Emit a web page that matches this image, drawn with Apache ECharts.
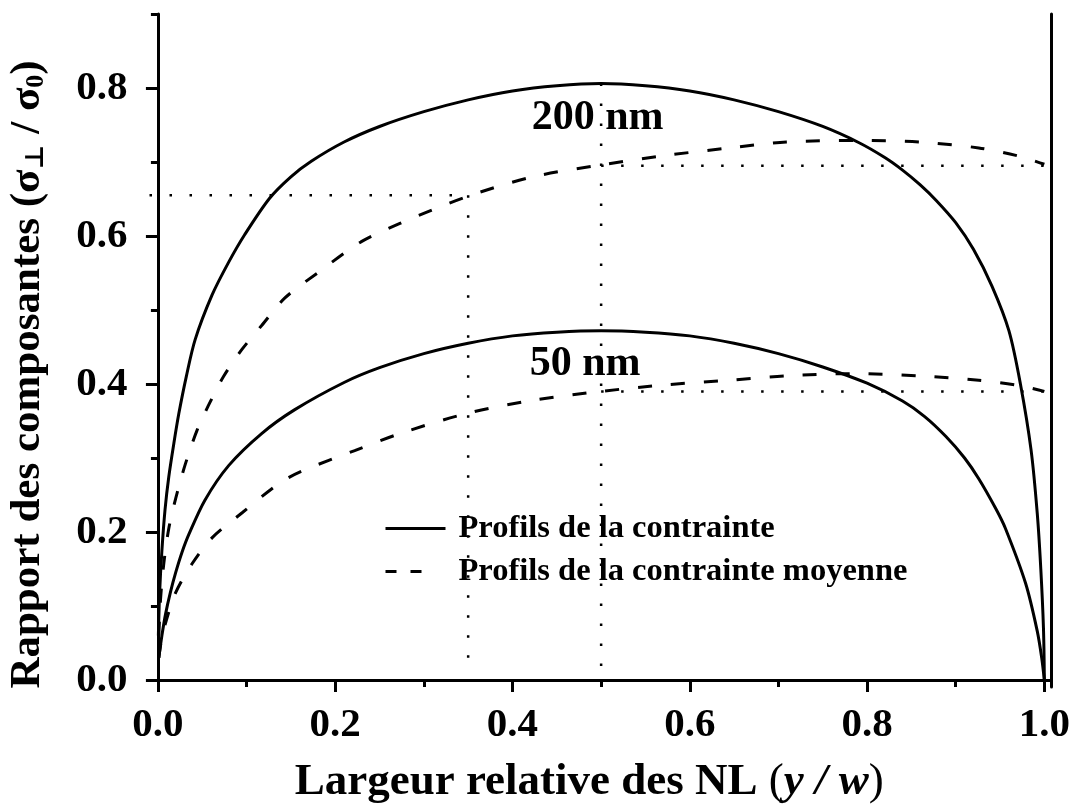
<!DOCTYPE html>
<html>
<head>
<meta charset="utf-8">
<script src="https://cdn.jsdelivr.net/npm/echarts@6/dist/echarts.min.js"></script>
<style>
  html, body { margin: 0; padding: 0; background: #fff; }
  #chart { width: 1078px; height: 807px; }
</style>
</head>
<body>
<div id="chart"></div>
<script>
const FONT = '"Liberation Serif", "Times New Roman", "DejaVu Serif", serif';

// Stress profile across the wire width, 200 nm wire
const x200Solid = [0.0005, 0.002, 0.0045, 0.008, 0.0123, 0.018, 0.0236, 0.032, 0.042, 0.061, 0.08, 0.098, 0.126, 0.15, 0.173, 0.21, 0.25, 0.3, 0.35, 0.4, 0.45, 0.5, 0.55, 0.6, 0.65, 0.7, 0.75, 0.791, 0.82, 0.84, 0.86, 0.878, 0.9, 0.92, 0.941, 0.96, 0.973, 0.985, 0.992, 0.996, 0.999, 1.0];
const y200Solid = [0.06, 0.12, 0.175, 0.23, 0.275, 0.32, 0.36, 0.41, 0.46, 0.52, 0.565, 0.602, 0.651, 0.68, 0.701, 0.727, 0.748, 0.768, 0.784, 0.796, 0.803, 0.806, 0.803, 0.796, 0.784, 0.768, 0.748, 0.726, 0.706, 0.689, 0.669, 0.648, 0.618, 0.582, 0.532, 0.472, 0.40, 0.311, 0.225, 0.15, 0.07, 0.0];

// Mean stress profile, 200 nm wire
const x200Mean = [0.001, 0.003, 0.0067, 0.0123, 0.02, 0.031, 0.044, 0.057, 0.074, 0.095, 0.117, 0.143, 0.18, 0.229, 0.273, 0.348, 0.423, 0.5, 0.574, 0.645, 0.709, 0.791, 0.859, 0.926, 0.971, 1.0];
const y200Mean = [0.06, 0.11, 0.158, 0.205, 0.245, 0.292, 0.337, 0.371, 0.41, 0.447, 0.479, 0.516, 0.55, 0.592, 0.617, 0.653, 0.68, 0.696, 0.709, 0.719, 0.727, 0.729, 0.727, 0.719, 0.708, 0.697];

// Stress profile across the wire width, 50 nm wire
const x50Solid = [0.001, 0.0045, 0.0086, 0.014, 0.02, 0.027, 0.035, 0.053, 0.08, 0.117, 0.154, 0.21, 0.25, 0.3, 0.35, 0.4, 0.45, 0.5, 0.55, 0.6, 0.65, 0.7, 0.75, 0.8, 0.84, 0.865, 0.889, 0.91, 0.926, 0.945, 0.956, 0.979, 0.992, 0.997, 1.0];
const y50Solid = [0.03, 0.06, 0.089, 0.118, 0.145, 0.172, 0.197, 0.243, 0.29, 0.333, 0.365, 0.402, 0.422, 0.441, 0.455, 0.465, 0.47, 0.472, 0.47, 0.465, 0.455, 0.441, 0.423, 0.401, 0.377, 0.356, 0.329, 0.3, 0.272, 0.232, 0.205, 0.13, 0.066, 0.03, 0.0];

// Mean stress profile, 50 nm wire
const x50Mean = [0.001, 0.003, 0.0086, 0.02, 0.0385, 0.061, 0.095, 0.136, 0.162, 0.222, 0.273, 0.348, 0.423, 0.5, 0.574, 0.645, 0.709, 0.784, 0.859, 0.926, 0.971, 1.0];
const y50Mean = [0.03, 0.047, 0.077, 0.118, 0.157, 0.192, 0.226, 0.265, 0.282, 0.31, 0.333, 0.36, 0.378, 0.39, 0.399, 0.405, 0.411, 0.414, 0.411, 0.405, 0.398, 0.39];

// Guide lines (dotted)
const guides = [
  [[-0.0095, 0.655], [0.35, 0.655]],
  [[0.35, 0.655], [0.35, 0.01]],
  [[0.5, 0.806], [0.5, 0.01]],
  [[0.5, 0.695], [1.0, 0.695]],
  [[0.5, 0.39], [1.0, 0.39]]
];

// Size labels
const sizeLabels = ['200 nm', '50 nm'];
const sizeLabelPos = [[0.496, 0.759], [0.482, 0.427]];

const xMajor = [0, 0.2, 0.4, 0.6, 0.8, 1.0];
const xMinor = [0.1, 0.3, 0.5, 0.7, 0.9];
const yMajor = [0, 0.2, 0.4, 0.6, 0.8];
const yMinor = [0.1, 0.3, 0.5, 0.7, 0.9];

const legendSolid = 'Profils de la contrainte';
const legendMean = 'Profils de la contrainte moyenne';

const zip = (xs, ys) => xs.map((x, i) => [x, ys[i]]);

const X_MIN = -0.0095, X_MAX = 1.0075, Y_MIN = -0.0095, Y_MAX = 0.9;
const AXIS_COLOR = '#000';

const solidStyle = { color: '#000', width: 3, type: 'solid' };
const dashStyle = { color: '#000', width: 3, type: [14, 19] };
const dotStyle = { color: '#000', width: 2.5, type: [2.5, 17.5] };

const curve = (name, xs, ys, style) => ({
  name, type: 'line', data: zip(xs, ys), smooth: 0.3,
  symbol: 'none', lineStyle: style, color: '#000'
});

const series = [
  curve(legendSolid, x200Solid, y200Solid, solidStyle),
  curve(legendSolid, x50Solid, y50Solid, solidStyle),
  curve(legendMean, x200Mean, y200Mean, dashStyle),
  curve(legendMean, x50Mean, y50Mean, dashStyle)
];
guides.forEach(g => series.push({
  type: 'line', data: g, symbol: 'none', lineStyle: dotStyle, silent: true, clip: false, z: 1
}));
series.push({
  type: 'scatter', symbol: 'circle', symbolSize: 1, silent: true,
  itemStyle: { color: 'transparent', opacity: 1 },
  data: sizeLabelPos.map((p, i) => ({ value: p, name: sizeLabels[i] })),
  label: {
    show: true, position: 'inside', formatter: p => p.name, opacity: 1,
    fontFamily: FONT, fontWeight: 'bold', fontSize: 42, color: '#000'
  }
});

const tickLabel = v => v.toFixed(1);

const option = {
  backgroundColor: '#fff',
  animation: false,
  grid: { left: 149.5, right: 27, top: 14, bottom: 120, containLabel: false, outerBoundsMode: 'none' },
  legend: {
    orient: 'vertical', left: 384, top: 512, padding: 0,
    itemWidth: 60, itemHeight: 14, itemGap: 10,
    itemStyle: { opacity: 0 },
    lineStyle: { width: 3 },
    data: [
      { name: legendSolid },
      { name: legendMean, lineStyle: { width: 3, type: [11, 14, 11, 40] } }
    ],
    textStyle: { fontFamily: FONT, fontWeight: 'bold', fontSize: 32.5, color: '#000', padding: [0, 0, 0, 8] }
  },
  xAxis: [
    {
      type: 'value', min: X_MIN, max: X_MAX, position: 'bottom',
      axisLine: { show: true, lineStyle: { color: AXIS_COLOR, width: 3 } },
      axisTick: { show: true, length: 12, lineStyle: { width: 3, color: AXIS_COLOR }, customValues: xMajor },
      axisLabel: { customValues: xMajor, formatter: tickLabel, margin: 18, fontFamily: FONT, fontWeight: 'bold', fontSize: 41, color: '#000' },
      splitLine: { show: false },
      name: '{b|Largeur relative des NL }{r|(}{i|y / w}{r|)}',
      nameLocation: 'middle', nameGap: 73,
      nameTextStyle: {
        padding: [0, 22, 0, 0],
        rich: {
          b: { fontFamily: FONT, fontWeight: 'bold', fontSize: 45, color: '#000' },
          r: { fontFamily: FONT, fontWeight: 'normal', fontSize: 45, color: '#000' },
          i: { fontFamily: FONT, fontWeight: 'bold', fontStyle: 'italic', fontSize: 45, color: '#000' }
        }
      }
    },
    {
      type: 'value', min: X_MIN, max: X_MAX, position: 'bottom',
      axisLine: { show: false },
      axisTick: { show: true, length: 7, lineStyle: { width: 3, color: AXIS_COLOR }, customValues: xMinor },
      axisLabel: { show: false },
      splitLine: { show: false }
    }
  ],
  yAxis: [
    {
      type: 'value', min: Y_MIN, max: Y_MAX, position: 'left',
      axisLine: { show: true, lineStyle: { color: AXIS_COLOR, width: 3 } },
      axisTick: { show: true, length: 12, lineStyle: { width: 3, color: AXIS_COLOR }, customValues: yMajor },
      axisLabel: { customValues: yMajor, formatter: tickLabel, margin: 22, fontFamily: FONT, fontWeight: 'bold', fontSize: 41, color: '#000' },
      splitLine: { show: false },
      name: '{t|Rapport des composantes (σ}{s|⊥}{t| / σ}{s|0}{t|)}',
      nameLocation: 'middle', nameGap: 100,
      nameTextStyle: {
        padding: [0, 48, 0, 0],
        rich: {
          t: { fontFamily: FONT, fontWeight: 'bold', fontSize: 43, lineHeight: 44, color: '#000' },
          s: { fontFamily: FONT, fontWeight: 'bold', fontSize: 26, lineHeight: 26, padding: [18, 0, 0, 0], verticalAlign: 'bottom', color: '#000' }
        }
      }
    },
    {
      type: 'value', min: Y_MIN, max: Y_MAX, position: 'left',
      axisLine: { show: false },
      axisTick: { show: true, length: 7, lineStyle: { width: 3, color: AXIS_COLOR }, customValues: yMinor },
      axisLabel: { show: false },
      splitLine: { show: false }
    },
    {
      type: 'value', min: Y_MIN, max: Y_MAX, position: 'right',
      axisLine: { show: true, lineStyle: { color: AXIS_COLOR, width: 3 } },
      axisTick: { show: false }, axisLabel: { show: false }, splitLine: { show: false }
    }
  ],
  series: series
};

const chart = echarts.init(document.getElementById('chart'), null, { renderer: 'canvas' });
chart.setOption(option);
</script>
</body>
</html>
